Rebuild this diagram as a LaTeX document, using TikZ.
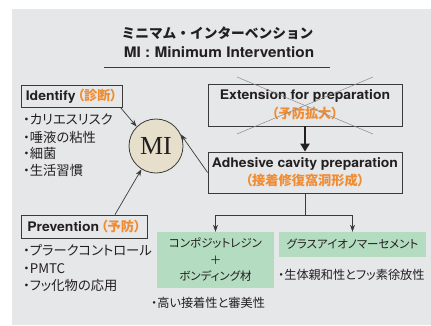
\documentclass[tikz,border=0pt]{standalone}
\usepackage{fontspec}
\setmainfont{TeX Gyre Heros}[FakeStretch=1.06]
\newfontfamily\jp{Noto Sans CJK JP}
\newfontfamily\jpp{Noto Sans CJK JP}[RawFeature=+palt]
\newfontfamily\mifont{Liberation Serif}
\usetikzlibrary{arrows.meta,calc}
\definecolor{bg}{HTML}{E6E7E9}
\definecolor{org}{HTML}{F08C32}
\definecolor{grn}{HTML}{B3DCC0}
\definecolor{beige}{HTML}{E6DFCC}
\definecolor{frm}{HTML}{3A3A3A}
\definecolor{txt}{HTML}{231F20}
\definecolor{crossc}{HTML}{8A8A8A}
\tikzset{
  box/.style={draw=frm, line width=0.8pt, fill=bg, inner sep=0pt, align=center, text=txt},
  gbox/.style={fill=grn, inner sep=0pt, align=center, text=txt, font=\jpp\fontsize{11.5}{16.5}\selectfont},
  bl/.style={anchor=base west, inner sep=0pt, text=txt, font=\jpp\fontsize{13.3}{17}\selectfont},
  bls/.style={anchor=base west, inner sep=0pt, text=txt, font=\jpp\fontsize{12.2}{17}\selectfont},
  arr/.style={draw=frm, line width=0.7pt, -{Stealth[length=7pt,width=5pt]}},
  ln/.style={draw=frm, line width=0.7pt},
  thick arr/.style={draw=txt, line width=2.6pt, -{Triangle[length=8pt,width=9pt]}},
  lat/.style={font=\bfseries\fontsize{13.2}{18.5}\selectfont}
}
\newcommand{\org}[1]{\textcolor{org}{\jpp\bfseries #1}}
\begin{document}
\begin{tikzpicture}[x=1pt,y=-1pt]
\useasboundingbox (0,0) rectangle (431,325);
\fill[bg] (12,9) rectangle (431,325);

% title
\node[text=txt, font=\jp\bfseries\fontsize{13.7}{16}\selectfont] (t1) at (217.5,33) {ミニマム・インターベンション};
\node[text=txt, font=\bfseries\fontsize{14.5}{16}\selectfont] (t2) at (219,52) {MI : Minimum Intervention};
\draw[frm, line width=0.8pt] (104,67.5) -- (330,67.5);

% MI circle
\node[circle, draw=frm, line width=0.8pt, fill=beige, minimum size=54pt, inner sep=0pt,
      font=\mifont\fontsize{26}{26}\selectfont, text=txt] (mi) at (156,146) {MI};

% Identify
\node[box, lat, minimum width=101pt, minimum height=22pt] (ident) at (71.5,96) {Identify\hspace{2pt}\org{（診断）}};
\node[bl] (i1) at (23,124.5) {・カリエスリスク};
\node[bl] (i2) at (23,142) {・唾液の粘性};
\node[bl] (i3) at (23,158.5) {・細菌};
\node[bl] (i4) at (23,175) {・生活習慣};

% Prevention
\node[box, lat, minimum width=126pt, minimum height=23pt] (prev) at (84,226.5) {Prevention\hspace{2pt}\org{（予防）}};
\node[bl] (p1) at (23,255.5) {・プラークコントロール};
\node[bl] (p2) at (23,273) {・PMTC};
\node[bl] (p3) at (23,290) {・フッ化物の応用};

% Extension
\node[box, lat, minimum width=194pt, minimum height=42pt] (ext) at (305,105) {Extension for preparation\\\org{（予防拡大）}};
\draw[crossc, line width=0.5pt] ($(ext.center)+(-68,-28)$) -- ($(ext.center)+(68,29)$);
\draw[crossc, line width=0.5pt] ($(ext.center)+(68,-28)$) -- ($(ext.center)+(-68,29)$);

% Adhesive
\node[box, lat, minimum width=194pt, minimum height=41pt] (adh) at (305,172.5) {Adhesive cavity preparation\\\org{（接着修復窩洞形成）}};

% green boxes
\node[gbox, minimum width=117pt, minimum height=56pt] (g1) at (215.5,260) {コンポジットレジン\\＋\\ボンディング材};
\node[gbox, minimum width=147pt, minimum height=25pt] (g2) at (352.5,244.5) {グラスアイオノマーセメント};
\node[bls] (g2l) at (278,279.5) {・生体親和性とフッ素徐放性};
\node[bls] (g1l) at (151,307.5) {・高い接着性と審美性};

% connectors
\draw[thick arr] (ext.south) -- (adh.north);
\coordinate (jn) at ($(adh.south)+(0,22)$);
\draw[ln] (adh.south) -- (jn);
\draw[arr] (jn) -| (g1.north);
\draw[arr] (jn) -| (g2.north);
\draw[arr] ($(ident.south east)+(-2,0)$) -- (mi.135);
\draw[arr] ($(prev.north)+(31,0)$) -- (mi.-122);
\draw[arr] (adh.west) -- (mi.25);
\end{tikzpicture}
\end{document}
